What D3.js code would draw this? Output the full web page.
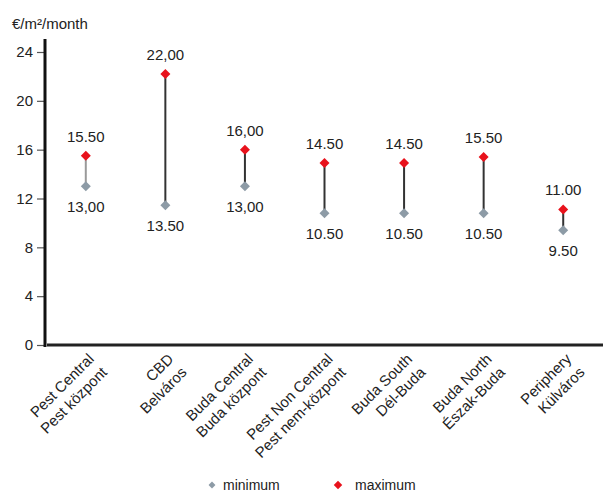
<!DOCTYPE html>
<html>
<head>
<meta charset="utf-8">
<script src="https://cdn.jsdelivr.net/npm/d3@7"></script>
<style>
  body { margin: 0; background: #fff; }
  text { font-family: "Liberation Sans", Arial, sans-serif; fill: #222; }
</style>
</head>
<body>
<svg id="chart" width="603" height="493"></svg>
<script>
var categories = [
  ['Pest Central', 'Pest központ'],
  ['CBD', 'Belváros'],
  ['Buda Central', 'Buda központ'],
  ['Pest Non Central', 'Pest nem-központ'],
  ['Buda South', 'Dél-Buda'],
  ['Buda North', 'Észak-Buda'],
  ['Periphery', 'Külváros']
];
// where the markers sit in the picture
var minimum = [13.0, 11.45, 13.0, 10.8, 10.8, 10.8, 9.4];
var maximum = [15.5, 22.2, 16.0, 14.9, 14.9, 15.4, 11.1];
// the printed labels
var minLabels = ['13,00', '13.50', '13,00', '10.50', '10.50', '10.50', '9.50'];
var maxLabels = ['15.50', '22,00', '16,00', '14.50', '14.50', '15.50', '11.00'];
var yTicks = [0, 4, 8, 12, 16, 20, 24];

var svg = d3.select('#chart'),
    margin = {top: 52, right: 0, bottom: 148, left: 46},
    width = +svg.attr('width') - margin.left - margin.right,
    height = +svg.attr('height') - margin.top - margin.bottom,
    g = svg.append('g')
          .attr('transform', `translate(${margin.left}, ${margin.top})`);

var x = d3.scalePoint().domain(d3.range(categories.length)).range([0, width]).padding(0.5),
    y = d3.scaleLinear().domain([0, 24]).range([height, 0]);

var minColor = '#8d9ba6', maxColor = '#e8121c';
var diamond = d3.symbol().type(d3.symbolSquare);

// y axis
var yAxis = g.append('g')
  .call(d3.axisLeft(y).tickValues(yTicks).tickSize(8).tickPadding(4));
yAxis.select('.domain').remove();
yAxis.selectAll('.tick line').attr('stroke', '#555').attr('stroke-width', 1.2).attr('x2', -2).attr('x1', -9);
yAxis.selectAll('.tick text').style('font-size', '15px').attr('fill', '#222').attr('x', -13);

g.append('line')
  .attr('x1', -1).attr('x2', -1).attr('y1', -13).attr('y2', height + 2)
  .attr('stroke', '#111').attr('stroke-width', 3);
g.append('line')
  .attr('x1', 1).attr('x2', width).attr('y1', height).attr('y2', height)
  .attr('stroke', '#222').attr('stroke-width', 3);

svg.append('text')
  .attr('x', 12).attr('y', 29)
  .style('font-size', '15px')
  .text('€/m²/month');

// x labels
var xl = g.selectAll('.xlabel').data(categories).enter().append('text')
  .attr('class', 'xlabel')
  .attr('text-anchor', 'end')
  .style('font-size', '15px')
  .attr('transform', (d, i) => `translate(${x(i) + 9}, ${height + 15}) rotate(-45)`);
xl.append('tspan').attr('x', 0).attr('y', 0).text(d => d[0]);
xl.append('tspan').attr('x', 0).attr('dy', '1.25em').text(d => d[1]);

// connectors
g.selectAll('.range').data(categories).enter().append('line')
  .attr('x1', (d, i) => x(i)).attr('x2', (d, i) => x(i))
  .attr('y1', (d, i) => y(minimum[i])).attr('y2', (d, i) => y(maximum[i]))
  .attr('stroke', (d, i) => i === 0 ? '#9a9a9a' : '#333')
  .attr('stroke-width', 2);

g.selectAll('.min').data(minimum).enter().append('path')
  .attr('d', diamond.size(50))
  .attr('transform', (d, i) => `translate(${x(i)}, ${y(d)}) rotate(45)`)
  .attr('fill', minColor);

g.selectAll('.max').data(maximum).enter().append('path')
  .attr('d', diamond.size(50))
  .attr('transform', (d, i) => `translate(${x(i)}, ${y(d)}) rotate(45)`)
  .attr('fill', maxColor);

g.selectAll('.minlab').data(minLabels).enter().append('text')
  .attr('x', (d, i) => x(i)).attr('y', (d, i) => y(minimum[i]) + 26)
  .attr('text-anchor', 'middle')
  .style('font-size', '15px')
  .text(d => d);

g.selectAll('.maxlab').data(maxLabels).enter().append('text')
  .attr('x', (d, i) => x(i)).attr('y', (d, i) => y(maximum[i]) - 14)
  .attr('text-anchor', 'middle')
  .style('font-size', '15px')
  .text(d => d);

// legend
var legend = svg.append('g').attr('transform', 'translate(0, 485)');
[['minimum', minColor, 212, 24, 11], ['maximum', maxColor, 338, 36, 17]].forEach(function (l) {
  legend.append('path')
    .attr('d', diamond.size(l[3]))
    .attr('transform', `translate(${l[2]}, 0) rotate(45)`)
    .attr('fill', l[1]);
  legend.append('text')
    .attr('x', l[2] + l[4]).attr('y', 5)
    .style('font-size', '14px')
    .text(l[0]);
});
</script>
</body>
</html>
